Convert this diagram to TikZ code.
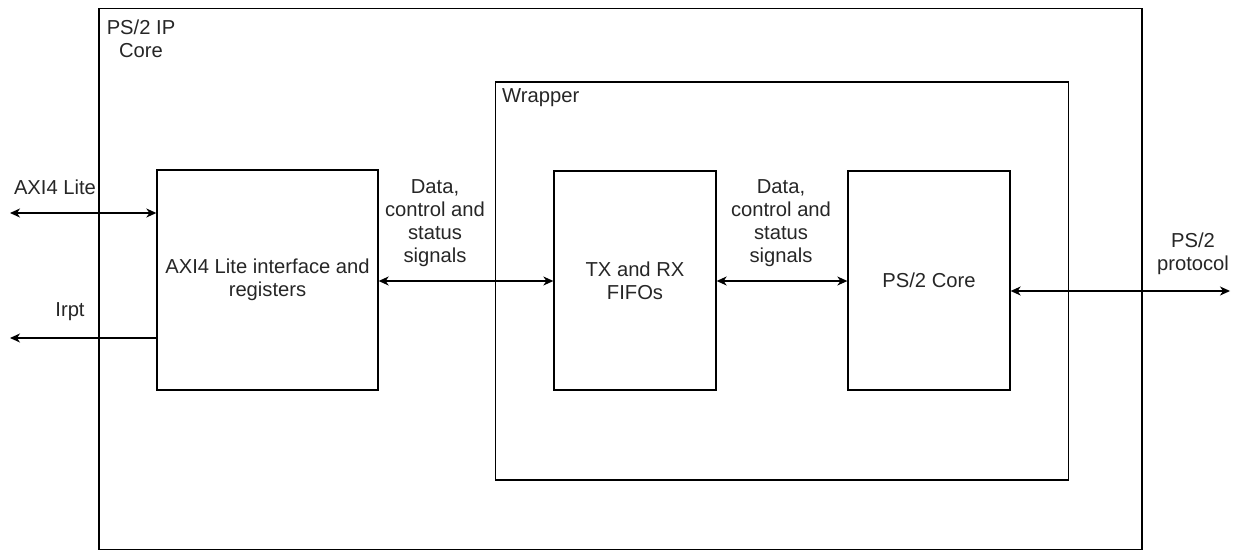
\documentclass[tikz,border=0pt]{standalone}
\usepackage{fontspec}
\setmainfont{Liberation Sans}
\usetikzlibrary{arrows.meta}

\tikzset{
  block/.style={draw, line width=1.3pt, align=center},
  lbl/.style={align=center, text=black!85},
  sig/.style={line width=1.3pt, {Stealth[length=10pt,width=9pt,inset=3pt]}-{Stealth[length=10pt,width=9pt,inset=3pt]}},
  sigout/.style={line width=1.3pt, -{Stealth[length=10pt,width=9pt,inset=3pt]}}
}

\begin{document}
\begin{tikzpicture}[x=1pt, y=-1pt, font=\fontsize{20.2}{23}\selectfont]
    \useasboundingbox (0,0) rectangle (1238,553);
    % Outer IP core and wrapper
    \node[block, minimum width=1043, minimum height=541] (ipcore) at (620.5,279) {};
    \node[lbl] (iplabel) at (141,39) {PS/2 IP\\Core};
    \node[block, minimum width=573, minimum height=398] (wrapper) at (782,281) {};
    \node[lbl, anchor=west, inner sep=0pt] (wraplabel) at (502,98) {Wrapper};
    % Blocks
    \node[block, text=black!85, minimum width=221, minimum height=220] (axi) at (267.5,280) {AXI4 Lite interface and\\registers};
    \node[block, text=black!85, minimum width=162, minimum height=219] (fifo) at (635,280.5) {TX and RX\\FIFOs};
    \node[block, text=black!85, minimum width=162, minimum height=219] (pscore) at (929,280.5) {PS/2 Core};
    % Free ends outside
    \coordinate (axiext) at (10,213);
    \coordinate (irptext) at (10,338);
    \coordinate (psext) at (1230,291);
    % Connectors
    \draw[sig] (axiext) -- (axiext -| axi.west);
    \draw[sigout] (irptext -| axi.west) -- (irptext);
    \draw[sig] (axi.east |- 0,281) -- (fifo.west |- 0,281);
    \draw[sig] (fifo.east |- 0,281) -- (pscore.west |- 0,281);
    \draw[sig] (pscore.east |- psext) -- (psext);
    % Signal labels
    \node[lbl] (axilbl) at (55,187) {AXI4 Lite};
    \node[lbl] (irptlbl) at (70,312) {Irpt};
    \node[lbl] (sig1lbl) at (435,223.5) {Data,\\control and\\status\\signals};
    \node[lbl] (sig2lbl) at (781,223.5) {Data,\\control and\\status\\signals};
    \node[lbl] (pslbl) at (1193,254) {PS/2\\protocol};
\end{tikzpicture}
\end{document}
